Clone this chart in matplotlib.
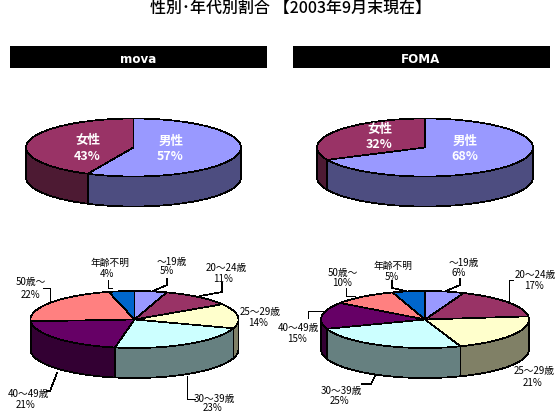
import numpy as np
import matplotlib
matplotlib.use('Agg')
import matplotlib.pyplot as plt
from matplotlib.patches import Polygon, Rectangle

plt.rcParams['font.family'] = ['Noto Sans CJK JP', 'DejaVu Sans']

title = '性別･年代別割合 【2003年9月末現在】'
carriers = ['mova', 'FOMA']

gender_names = ['男性', '女性']
mova_gender = [57, 43]
foma_gender = [68, 32]

age_names = ['〜19歳', '20〜24歳', '25〜29歳', '30〜39歳', '40〜49歳', '50歳〜', '年齢不明']
mova_age = [5, 11, 14, 23, 21, 22, 4]
foma_age = [6, 17, 21, 25, 15, 10, 5]

gender_colors = ['#9999ff', '#993366']
gender_sides = ['#4d4d80', '#4d1a33']
age_colors = ['#9999ff', '#993366', '#ffffcc', '#ccffff', '#660066', '#ff8080', '#0066cc']
age_sides = ['#4d4d80', '#4d1a33', '#808066', '#668080', '#330033', '#804040', '#003366']


def ellipse_pts(cx, cy, rx, ry, a0, a1):
    # angles in degrees, clockwise from 12 o'clock
    n = max(2, int(abs(a1 - a0)) + 2)
    t = np.radians(np.linspace(a0, a1, n))
    return np.column_stack([cx + rx*np.sin(t), cy - ry*np.cos(t)])


def pie3d(ax, values, colors, sides, cx, cy, rx, ry, depth):
    values = np.array(values, dtype=float)
    edges = np.concatenate([[0], np.cumsum(values)/values.sum()*360])
    for i in range(len(values)):
        a0 = max(edges[i], 90)
        a1 = min(edges[i+1], 270)
        if a1 <= a0:
            continue
        top = ellipse_pts(cx, cy, rx, ry, a0, a1)
        low = top[::-1] + [0, depth]
        ax.add_patch(Polygon(np.vstack([top, low]), closed=True, fc=sides[i], ec='black',
                             lw=0.5, joinstyle='miter', antialiased=False, zorder=2))
    for i in range(len(values)):
        arc = ellipse_pts(cx, cy, rx, ry, edges[i], edges[i+1])
        ax.add_patch(Polygon(np.vstack([[cx, cy], arc]), closed=True, fc=colors[i], ec='black',
                             lw=0.5, joinstyle='miter', antialiased=False, zorder=3))


def label(ax, x, y, s, size=7.0, color='black', **kw):
    ax.text(x, y, s, ha='center', va='center', fontsize=size, color=color, zorder=5, **kw)


fig = plt.figure(figsize=(5.6, 4.14), dpi=100)
ax = fig.add_axes([0, 0, 1, 1])
ax.set_xlim(0, 560)
ax.set_ylim(414, 0)
ax.axis('off')

ax.text(291, 8, title, ha='center', va='center', fontsize=11.5, color='black', fontweight='medium')

for x0, name in zip([10, 293], carriers):
    ax.add_patch(Rectangle((x0, 47), 257, 22, fc='black', ec='none'))
    ax.text(x0 + 128, 59.5, name, ha='center', va='center', fontsize=8.6, color='white',
            family='DejaVu Sans', fontweight='bold')

# gender pies
pie3d(ax, mova_gender, gender_colors, gender_sides, 133.5, 148.5, 107.5, 29, 30)
pie3d(ax, foma_gender, gender_colors, gender_sides, 425, 148.5, 108, 29, 30)

gender_pos = [
    [(171, 141, 170, 157), (88, 141, 87, 157)],
    [(465, 141, 465, 157), (380, 130, 379, 145)],
]
for vals, pos in zip([mova_gender, foma_gender], gender_pos):
    for name, v, (x1, y1, x2, y2) in zip(gender_names, vals, pos):
        label(ax, x1, y1, name, size=9, color='white', fontweight='bold')
        label(ax, x2, y2, f'{v}%', size=9, color='white', fontweight='bold')

# age pies
pie3d(ax, mova_age, age_colors, age_sides, 134.5, 320.5, 104, 28.5, 30)
pie3d(ax, foma_age, age_colors, age_sides, 425, 320.5, 104, 28.5, 30)

mova_pos = [
    (172, 262, 167, 271), (226, 268, 223, 279), (260, 312, 258, 323), (214, 399, 213, 408.5),
    (28, 394, 26, 405), (31, 282, 30, 295), (110, 263, 107, 274),
]
foma_pos = [
    (464, 263, 459, 273), (535, 275, 534, 286), (534, 371, 533, 383), (341, 391, 339, 401),
    (298, 328, 297, 339), (343, 273, 342, 283), (393, 266, 392, 277),
]
for vals, pos in zip([mova_age, foma_age], [mova_pos, foma_pos]):
    for name, v, (x1, y1, x2, y2) in zip(age_names, vals, pos):
        label(ax, x1, y1, name)
        label(ax, x2, y2, f'{v}%', size=7.0)

# leader lines
mova_leaders = [
    [(153, 292), (167, 286), (167, 280)],
    [(200, 297), (222, 293), (222, 284)],
    [(112, 289), (108, 289), (108, 281)],
    [(50, 304), (50, 289), (43, 289)],
    [(57, 374), (50, 392), (47, 392)],
    [(187, 377), (187, 400), (195, 400)],
]
foma_leaders = [
    [(446, 292), (460, 286), (460, 280)],
    [(509, 302), (509, 281), (513, 281)],
    [(406, 292), (392, 289), (392, 282)],
    [(355, 297), (346, 297), (346, 289)],
    [(324, 312), (308, 312), (308, 319)],
    [(375, 377), (371, 385), (362, 385)],
]
for line in mova_leaders + foma_leaders:
    xs, ys = zip(*line)
    ax.plot(xs, ys, color='black', lw=0.5, antialiased=False, zorder=4)

fig.savefig('out.png', dpi=100, facecolor='white')
